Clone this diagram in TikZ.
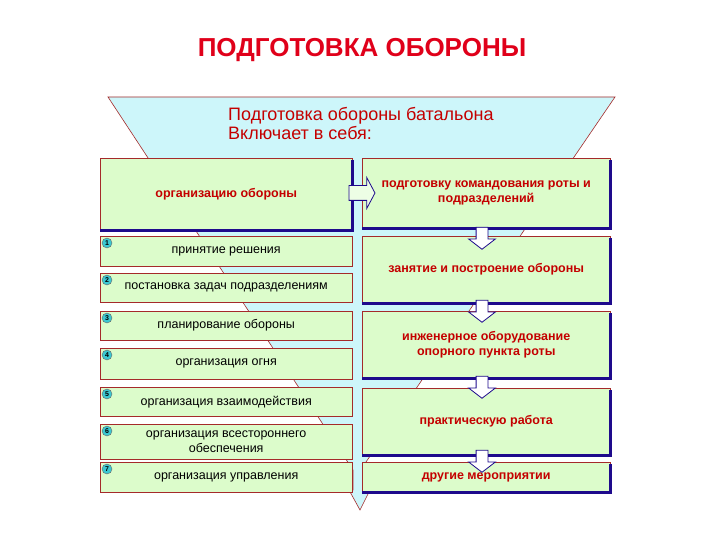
\documentclass[tikz,border=0pt]{standalone}
\usepackage{fontspec}
\setmainfont{Liberation Sans}
\usetikzlibrary{positioning,shapes.arrows}
\definecolor{funnelcyan}{HTML}{CDF6FA}
\definecolor{boxgreen}{HTML}{DCFCCB}
\definecolor{rimred}{HTML}{A52A2A}
\definecolor{shadenavy}{HTML}{1E0A8C}
\definecolor{textred}{HTML}{C40000}
\definecolor{titlered}{HTML}{E0001A}
\definecolor{dotcyan}{HTML}{3CC8D2}

\begin{document}
\begin{tikzpicture}[x=1pt,y=-1pt,
  panel/.style={draw=rimred, fill=boxgreen, anchor=north west, align=center, text=textred, font=\fontsize{12.5}{15}\selectfont\bfseries},
  item/.style={draw=rimred, fill=boxgreen, anchor=north west, minimum width=252pt, align=center, inner sep=1pt, font=\fontsize{12.5}{15}\selectfont},
  numdot/.style={circle, draw=black!60, fill=dotcyan, inner sep=0pt, minimum size=10pt, font=\fontsize{7}{7}\selectfont\bfseries},
  rimshadow/.style={draw=shadenavy, line width=2.5pt},
  downarrow/.style={single arrow, shape border rotate=270, draw=shadenavy, fill=white, line width=0.8pt, inner sep=5.5pt, minimum height=22pt, single arrow head extend=7.5pt, single arrow tip angle=105}]
  \useasboundingbox (0,0) rectangle (720,540);
  \fill[white] (0,0) rectangle (720,540);
  \path[draw=rimred, fill=funnelcyan, line width=0.6pt] (108,97) -- (615,97) -- (366,462) -- (366,490) -- (370,490) -- (360,510) -- (349,490) -- (353,490) -- (353,470) -- cycle;

  \node[anchor=base, font=\fontsize{26}{28}\selectfont\bfseries, text=titlered] (title) at (362,57) {ПОДГОТОВКА ОБОРОНЫ};
  \node[anchor=north west, align=left, inner sep=0pt, font=\fontsize{18}{19}\selectfont, text=textred] (intro) at (228,107) {Подготовка обороны батальона\\Включает в себя:};

  \node[panel, minimum width=252pt, minimum height=72pt] (org) at (100,158) {организацию обороны};
  \node[panel, minimum width=248pt, minimum height=70pt] (cmd) at (362,158) {подготовку командования роты и\\подразделений};
  \node[panel, minimum width=248pt, minimum height=67pt] (occupy) at (362,236) {занятие и построение обороны};
  \node[panel, minimum width=248pt, minimum height=67pt] (eng) at (362,311) {инженерное оборудование\\опорного пункта роты};
  \node[panel, minimum width=248pt, minimum height=67pt] (work) at (362,388) {практическую работа};
  \node[panel, minimum width=248pt, minimum height=30pt] (misc) at (362,462) {другие мероприятии};
  \foreach \b in {org,cmd,occupy,eng,work,misc}
    \draw[rimshadow] ([yshift=-2pt]\b.north east) -- (\b.south east) -- (\b.south west);

  \node[item, minimum height=30pt] (s1) at (100,236) {принятие решения};
  \node[item, minimum height=29pt] (s2) at (100,273) {постановка задач подразделениям};
  \node[item, minimum height=29pt] (s3) at (100,311) {планирование обороны};
  \node[item, minimum height=31pt] (s4) at (100,348) {организация огня};
  \node[item, minimum height=29pt] (s5) at (100,387) {организация взаимодействия};
  \node[item, minimum height=35pt] (s6) at (100,424) {организация всестороннего\\обеспечения};
  \node[item, minimum height=30pt] (s7) at (100,462) {организация управления};
  \foreach \i in {1,...,7}
    \node[numdot] (d\i) at ([shift={(7,7)}]s\i.north west) {\i};

  \node[single arrow, draw=shadenavy, fill=white!50!boxgreen, line width=0.8pt, inner sep=7pt, minimum height=26pt, single arrow head extend=8pt, single arrow tip angle=124] (link) at (360,193) {};
  \node[downarrow] (a1) at (482,236) {};
  \node[downarrow] (a2) at (482,309) {};
  \node[downarrow] (a3) at (482,385) {};
  \node[downarrow] (a4) at (482,459) {};
\end{tikzpicture}
\end{document}
